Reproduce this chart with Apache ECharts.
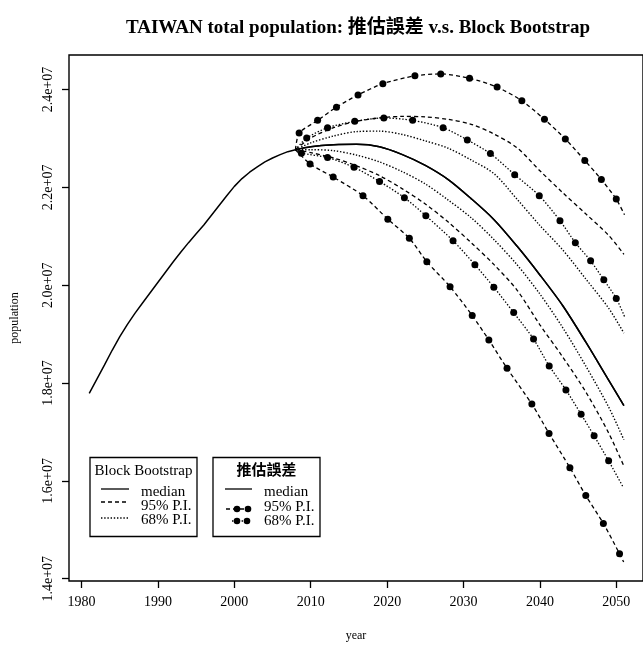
<!DOCTYPE html>
<html>
<head>
<meta charset="utf-8">
<script src="https://cdn.jsdelivr.net/npm/echarts@6/dist/echarts.min.js"></script>
<style>
  html, body { margin: 0; padding: 0; background: #fff; }
  #chart { width: 643px; height: 647px; }
</style>
</head>
<body>
<div id="chart"></div>
<script>
// ---- Observed total population (millions) ----
const histYears = [1981, 1982, 1983, 1984, 1985, 1986, 1987, 1988, 1989, 1990,
                   1991, 1992, 1993, 1994, 1995, 1996, 1997, 1998, 1999, 2000,
                   2001, 2002, 2003, 2004, 2005, 2006, 2007, 2008];
const histPop = [17.79, 18.08, 18.37, 18.67, 18.95, 19.20, 19.43, 19.64, 19.85, 20.06,
                 20.27, 20.48, 20.68, 20.87, 21.05, 21.23, 21.43, 21.63, 21.83, 22.02,
                 22.18, 22.31, 22.42, 22.52, 22.60, 22.67, 22.73, 22.77];

// ---- Block bootstrap forecasts (millions) ----
const bbYears   = [2008, 2010, 2013, 2016, 2019, 2022, 2025, 2028, 2031, 2034, 2037, 2040, 2043, 2046, 2049, 2051];
const bbMedian  = [22.77, 22.83, 22.87, 22.88, 22.83, 22.67, 22.45, 22.16, 21.77, 21.34, 20.80, 20.21, 19.58, 18.84, 18.06, 17.54];
const bbUpper95 = [22.77, 23.01, 23.22, 23.35, 23.42, 23.45, 23.44, 23.39, 23.29, 23.09, 22.81, 22.34, 21.89, 21.46, 21.02, 20.63];
const bbLower95 = [22.77, 22.71, 22.60, 22.44, 22.24, 21.97, 21.66, 21.29, 20.87, 20.42, 19.90, 19.19, 18.53, 17.82, 16.98, 16.30];
const bbUpper68 = [22.77, 22.91, 23.05, 23.14, 23.15, 23.08, 22.95, 22.80, 22.56, 22.28, 21.76, 21.22, 20.72, 20.13, 19.53, 19.02];
const bbLower68 = [22.77, 22.77, 22.75, 22.66, 22.52, 22.32, 22.07, 21.74, 21.38, 20.93, 20.42, 19.82, 19.13, 18.35, 17.51, 16.84];

// ---- 推估誤差 bands: start point, marker points, end point (millions) ----
const peUpper95Years = [2008, 2008.48, 2010.90, 2013.37, 2016.19, 2019.44, 2023.64, 2027.02, 2030.79, 2034.40,
                        2037.64, 2040.60, 2043.33, 2045.88, 2048.05, 2050.00, 2051.08];
const peUpper95 = [22.77, 23.11, 23.37, 23.64, 23.89, 24.12, 24.28, 24.32, 24.23, 24.05,
                   23.77, 23.39, 22.99, 22.55, 22.16, 21.76, 21.44];
const peLower95Years = [2008, 2009.91, 2012.94, 2016.84, 2020.09, 2022.91, 2025.20, 2028.24, 2031.14, 2033.32,
                        2035.70, 2038.95, 2041.20, 2043.93, 2046.01, 2048.31, 2050.43, 2050.97];
const peLower95 = [22.77, 22.48, 22.21, 21.83, 21.35, 20.96, 20.48, 19.97, 19.38, 18.88,
                   18.30, 17.57, 16.97, 16.27, 15.70, 15.13, 14.51, 14.34];
const peUpper68Years = [2008, 2009.47, 2012.20, 2015.76, 2019.57, 2023.34, 2027.33, 2030.50, 2033.52, 2036.70,
                        2039.92, 2042.63, 2044.64, 2046.64, 2048.37, 2050.00, 2051.08];
const peUpper68 = [22.77, 23.01, 23.22, 23.35, 23.42, 23.37, 23.22, 22.97, 22.69, 22.26,
                   21.83, 21.32, 20.87, 20.50, 20.11, 19.73, 19.36];
const peLower68Years = [2008, 2008.78, 2012.20, 2015.67, 2019.01, 2022.26, 2025.07, 2028.63, 2031.49, 2033.97,
                        2036.57, 2039.17, 2041.22, 2043.41, 2045.40, 2047.10, 2049.00, 2050.87];
const peLower68 = [22.77, 22.70, 22.61, 22.41, 22.12, 21.79, 21.42, 20.91, 20.42, 19.96,
                   19.44, 18.90, 18.35, 17.86, 17.36, 16.92, 16.41, 15.88];

// ---- Axis ticks ----
const yearTicks = [1980, 1990, 2000, 2010, 2020, 2030, 2040, 2050];
const popTicks  = [14e6, 16e6, 18e6, 20e6, 22e6, 24e6];

const SERIF = "'Liberation Serif', 'Noto Sans CJK TC', serif";
const INK = '#000';

const pairs = (xs, ys) => xs.map((x, i) => [x, ys[i] * 1e6]);
// Marker every point except the shared start and the final end point
const marked = (xs, ys) => xs.map((x, i) => ({
  value: [x, ys[i] * 1e6],
  symbol: (i === 0 || i === xs.length - 1) ? 'none' : 'circle'
}));

const DASH = [4, 3];
const DOT = [1.4, 1.8];

function plainLine(name, data, type, width, smooth) {
  return {
    name, type: 'line', data, symbol: 'none', smooth: smooth === undefined ? 0.3 : smooth,
    lineStyle: { color: INK, width: width || 1.3, type: type || 'solid' },
    z: 3
  };
}
function markerLine(name, data, type) {
  return {
    name, type: 'line', data, showSymbol: true, symbolSize: 7, smooth: 0.25,
    itemStyle: { color: INK },
    lineStyle: { color: INK, width: 1.3, type },
    z: 4
  };
}

const chart = echarts.init(document.getElementById('chart'), null, { renderer: 'canvas' });

// Legend boxes drawn as graphics
function legendBox(x0, title, titleBold, rows) {
  const els = [
    { type: 'rect', shape: { x: x0, y: 457.5, width: 107, height: 79 },
      style: { fill: '#fff', stroke: INK, lineWidth: 1.3 }, z: 10 },
    { type: 'text', x: x0 + 53.5, y: 471, z: 11,
      style: { text: title, font: (titleBold ? 'bold ' : '') + '15px ' + SERIF, fill: INK,
               align: 'center', verticalAlign: 'middle' } }
  ];
  rows.forEach(r => {
    els.push({ type: 'text', x: x0 + 51, y: r.ty, z: 11,
      style: { text: r.label, font: '15px ' + SERIF, fill: INK, align: 'left', verticalAlign: 'middle' } });
    els.push({ type: 'line', shape: { x1: r.x1, y1: r.ly, x2: r.x2, y2: r.ly }, z: 11,
      style: { stroke: INK, lineWidth: 1.3, lineDash: r.dash || null } });
    (r.dots || []).forEach(dx => {
      els.push({ type: 'circle', shape: { cx: dx, cy: r.ly, r: 3.3 }, z: 12, style: { fill: INK } });
    });
  });
  return els;
}

const graphics = [
  { type: 'text', x: 358, y: 28,
    style: { text: 'TAIWAN total population: 推估誤差 v.s. Block Bootstrap',
             font: 'bold 19px ' + SERIF, fill: INK, align: 'center', verticalAlign: 'middle' } }
].concat(
  legendBox(90, 'Block Bootstrap', false, [
    { label: 'median',   ty: 492, ly: 489, x1: 101, x2: 129 },
    { label: '95% P.I.', ty: 506, ly: 502, x1: 101, x2: 129, dash: [4, 3] },
    { label: '68% P.I.', ty: 520, ly: 518, x1: 101, x2: 129, dash: [1.4, 1.8] }
  ]),
  legendBox(213, '推估誤差', true, [
    { label: 'median',   ty: 492, ly: 489, x1: 225, x2: 252 },
    { label: '95% P.I.', ty: 507, ly: 509, x1: 226, x2: 250, dash: [4, 3], dots: [237, 248] },
    { label: '68% P.I.', ty: 521, ly: 521, x1: 232, x2: 250, dash: [1.4, 1.8], dots: [237, 247] }
  ])
);

const option = {
  backgroundColor: '#fff',
  animation: false,
  grid: { left: 69, top: 55, bottom: 66, right: -4, show: true, borderColor: INK, borderWidth: 1.4 },
  xAxis: {
    type: 'value', min: 1978.35, max: 2053.5,
    name: 'year', nameLocation: 'middle', nameGap: 49,
    nameTextStyle: { fontFamily: SERIF, fontSize: 12, color: INK },
    axisLine: { show: false },
    axisTick: { show: true, customValues: yearTicks, length: 7, lineStyle: { color: INK, width: 1.3 } },
    axisLabel: { customValues: yearTicks, margin: 14, fontFamily: SERIF, fontSize: 14, color: INK,
                 formatter: v => String(v) },
    splitLine: { show: false }
  },
  yAxis: {
    type: 'value', min: 13.953e6, max: 24.706e6,
    name: 'population', nameLocation: 'middle', nameGap: 48,
    nameTextStyle: { fontFamily: SERIF, fontSize: 12, color: INK },
    axisLine: { show: false },
    axisTick: { show: true, customValues: popTicks, length: 7, lineStyle: { color: INK, width: 1.3 } },
    axisLabel: {
      customValues: popTicks, rotate: 90, margin: 14, fontFamily: SERIF, fontSize: 14, color: INK,
      formatter: v => (v / 1e7).toFixed(1) + 'e+07'
    },
    splitLine: { show: false }
  },
  series: [
    plainLine('observed', pairs(histYears, histPop), 'solid', 1.5, false),
    plainLine('BB median', pairs(bbYears, bbMedian), 'solid', 1.5),
    plainLine('BB 95% upper', pairs(bbYears, bbUpper95), DASH),
    plainLine('BB 95% lower', pairs(bbYears, bbLower95), DASH),
    plainLine('BB 68% upper', pairs(bbYears, bbUpper68), DOT, 1.4),
    plainLine('BB 68% lower', pairs(bbYears, bbLower68), DOT, 1.4),
    plainLine('推估誤差 median', pairs(bbYears, bbMedian), 'solid', 1.5),
    markerLine('推估誤差 95% upper', marked(peUpper95Years, peUpper95), DASH),
    markerLine('推估誤差 95% lower', marked(peLower95Years, peLower95), DASH),
    markerLine('推估誤差 68% upper', marked(peUpper68Years, peUpper68), DOT),
    markerLine('推估誤差 68% lower', marked(peLower68Years, peLower68), DOT)
  ],
  graphic: graphics
};

chart.setOption(option);
</script>
</body>
</html>
